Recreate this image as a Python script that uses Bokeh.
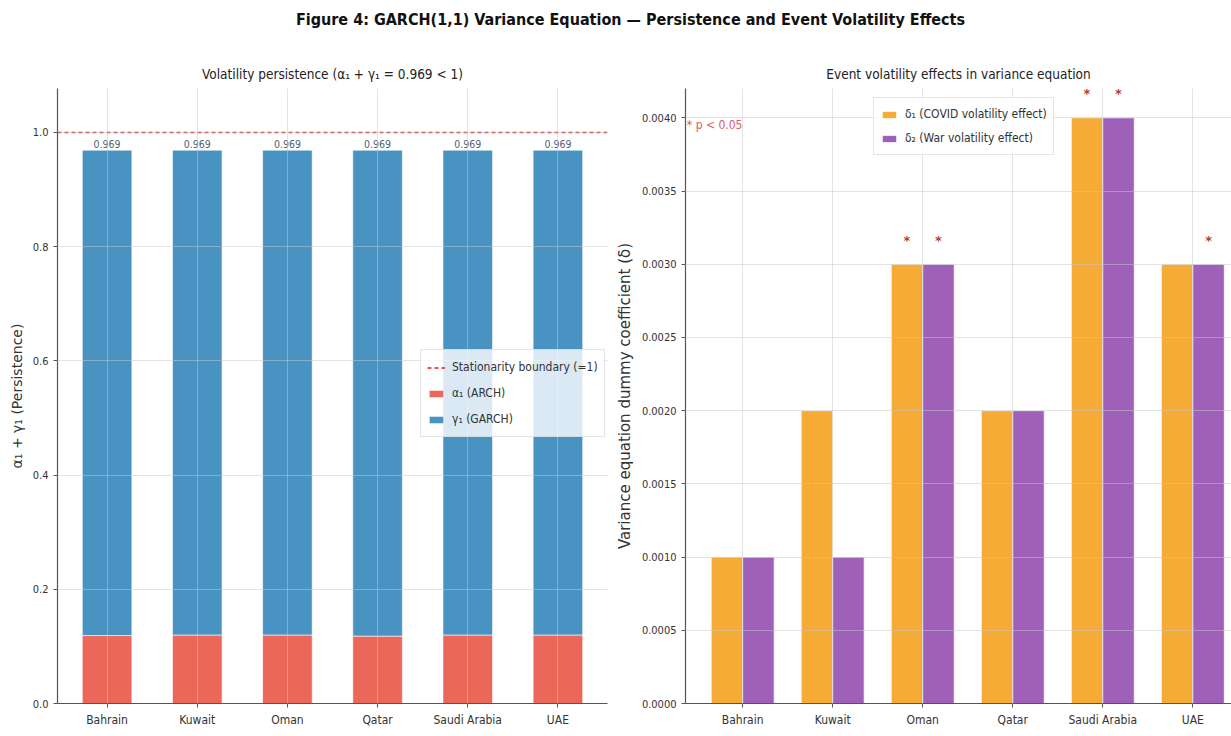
from bokeh.plotting import figure
from bokeh.layouts import column, row
from bokeh.models import (ColumnDataSource, FixedTicker, PrintfTickFormatter, Range1d,
                          Legend, LegendItem, Div, Label)
from bokeh.core.properties import value
from bokeh.embed import file_html
from bokeh.resources import INLINE

# ---- data -------------------------------------------------------------
countries = ["Bahrain", "Kuwait", "Oman", "Qatar", "Saudi Arabia", "UAE"]
alpha1 = [0.119, 0.120, 0.120, 0.118, 0.120, 0.120]      # ARCH term
gamma1 = [0.850, 0.849, 0.849, 0.851, 0.849, 0.849]      # GARCH term
boundary = 1.0

delta_covid = [0.001, 0.002, 0.003, 0.002, 0.004, 0.003]
delta_war = [0.001, 0.001, 0.003, 0.002, 0.004, 0.003]
sig_covid = [False, False, True, False, True, False]
sig_war = [False, False, True, False, True, True]

left_ticks = [0.0, 0.2, 0.4, 0.6, 0.8, 1.0]
right_ticks = [0.0, 0.0005, 0.001, 0.0015, 0.002, 0.0025, 0.003, 0.0035, 0.004]

# ---- styling ----------------------------------------------------------
NARROW = "'Liberation Sans Narrow', 'DejaVu Sans Condensed', 'DejaVu Sans', sans-serif"
WIDE = "'DejaVu Sans', sans-serif"
RED, BLUE = "#E74C3C", "#2980B9"
ORANGE, PURPLE = "#F39C12", "#8E44AD"
BAR_ALPHA = 0.85


def style_axes(p, ticks, fmt, ylabel):
    p.outline_line_color = None
    p.background_fill_color = "white"
    p.border_fill_color = "white"
    p.xaxis.ticker = FixedTicker(ticks=list(range(len(countries))))
    p.xaxis.major_label_overrides = {i: c for i, c in enumerate(countries)}
    p.yaxis.ticker = FixedTicker(ticks=ticks)
    p.yaxis.formatter = PrintfTickFormatter(format=fmt)
    p.yaxis.axis_label = ylabel
    p.yaxis.axis_label_text_font = WIDE
    p.yaxis.axis_label_text_font_size = "14px"
    p.yaxis.axis_label_text_font_style = "normal"
    p.yaxis.axis_label_text_color = "#333333"
    for ax in (p.xaxis, p.yaxis):
        ax.axis_line_color = "#555555"
        ax.axis_line_width = 1.2
        ax.major_tick_line_color = "#555555"
        ax.major_tick_out = 4
        ax.major_tick_in = 0
        ax.minor_tick_line_color = None
        ax.major_label_text_font = NARROW
        ax.major_label_text_color = "#333333"
    p.xaxis.major_label_text_font_size = "12px"
    p.yaxis.major_label_text_font_size = "11px"
    p.grid.grid_line_color = "#c8c8c8"
    p.grid.grid_line_alpha = 0.5
    p.grid.level = "overlay"
    p.title.text_font = NARROW
    p.title.text_font_size = "13.5px"
    p.title.text_font_style = "normal"
    p.title.text_color = "#222222"
    p.title.align = "center"
    p.title.standoff = 14


def style_legend(leg, row_h):
    leg.label_text_font = NARROW
    leg.label_text_font_size = "12px"
    leg.label_text_color = "#333333"
    leg.background_fill_alpha = 0.8
    leg.border_line_color = "#cccccc"
    leg.glyph_width = 18
    leg.glyph_height = 9
    leg.label_standoff = 7
    leg.spacing = 4
    leg.padding = 6
    leg.label_height = row_h


# ---- left: persistence ------------------------------------------------
idx = list(range(len(countries)))
total = [a + g for a, g in zip(alpha1, gamma1)]
src_l = ColumnDataSource(dict(
    x=idx, a=alpha1, top=total,
    lab=["%.3f" % t for t in total],
))

p1 = figure(width=612, height=696, output_backend="svg", toolbar_location=None,
            x_range=Range1d(-0.55, 5.55), y_range=Range1d(0, 1.077),
            min_border_left=57, min_border_right=5, min_border_top=48,
            min_border_bottom=33,
            title="Volatility persistence (\u03b1\u2081 + \u03b3\u2081 = 0.969 < 1)")
style_axes(p1, left_ticks, "%.1f", "\u03b1\u2081 + \u03b3\u2081 (Persistence)")

r_arch = p1.vbar(x="x", bottom=0, top="a", width=0.55, source=src_l,
                 fill_color=RED, fill_alpha=BAR_ALPHA, line_color="white", line_width=0.6)
r_garch = p1.vbar(x="x", bottom="a", top="top", width=0.55, source=src_l,
                  fill_color=BLUE, fill_alpha=BAR_ALPHA, line_color="white", line_width=0.6)
r_bound = p1.hspan(y=[boundary], line_color="#E0201E", line_width=1.6, line_dash="4 3")
p1.text(x="x", y="top", text="lab", source=src_l, text_align="center",
        text_baseline="bottom", y_offset=-2, text_font=value(NARROW),
        text_font_size="10.5px", text_color="#556070")

leg1 = Legend(items=[
    LegendItem(label="Stationarity boundary (=1)", renderers=[r_bound]),
    LegendItem(label="\u03b1\u2081 (ARCH)", renderers=[r_arch]),
    LegendItem(label="\u03b3\u2081 (GARCH)", renderers=[r_garch]),
], location=(363, 266))
style_legend(leg1, 22)
p1.add_layout(leg1)

# ---- right: event volatility dummies ------------------------------------
bw = 0.35
xc = [i - bw / 2 for i in idx]
xw = [i + bw / 2 for i in idx]
p2 = figure(width=619, height=696, output_backend="svg", toolbar_location=None,
            x_range=Range1d(-0.635, 5.43), y_range=Range1d(0, 0.0042),
            min_border_left=70, min_border_right=0, min_border_top=48,
            min_border_bottom=33,
            title="Event volatility effects in variance equation")
style_axes(p2, right_ticks, "%.4f", "Variance equation dummy coefficient (\u03b4)")
p2.yaxis.axis_label_text_font_size = "15px"

r_cov = p2.vbar(x=xc, top=delta_covid, width=bw, fill_color=ORANGE,
                fill_alpha=BAR_ALPHA, line_color="white", line_width=0.8)
r_war = p2.vbar(x=xw, top=delta_war, width=bw, fill_color=PURPLE,
                fill_alpha=BAR_ALPHA, line_color="white", line_width=0.8)

star_x = [x for x, s in zip(xc, sig_covid) if s] + [x for x, s in zip(xw, sig_war) if s]
star_y = [v for v, s in zip(delta_covid, sig_covid) if s] + [v for v, s in zip(delta_war, sig_war) if s]
p2.text(x=star_x, y=star_y, text=["*"] * len(star_x), text_align="center",
        text_baseline="middle", y_offset=-24, text_font=value(WIDE),
        text_font_size="13px", text_color="#C0392B", text_font_style="bold")

p2.add_layout(Label(x=-0.62, y=0.00395, text="* p < 0.05", text_baseline="middle",
                    text_font=NARROW, text_font_size="12px", text_color="#E05A6A"))

leg2 = Legend(items=[
    LegendItem(label="\u03b4\u2081 (COVID volatility effect)", renderers=[r_cov]),
    LegendItem(label="\u03b4\u2082 (War volatility effect)", renderers=[r_war]),
], location=(188, 548))
style_legend(leg2, 20)
p2.add_layout(leg2)

# ---- page --------------------------------------------------------------
head = Div(text="Figure 4: GARCH(1,1) Variance Equation \u2014 Persistence and Event Volatility Effects",
           width=1231, height=40, margin=0,
           styles={"font-family": NARROW, "font-weight": "bold", "font-size": "16px",
                   "color": "#111111", "text-align": "center", "padding-left": "30px",
                   "line-height": "40px", "box-sizing": "border-box", "width": "1231px",
                   "height": "40px"})

page = column(head, row(p1, p2, spacing=0), spacing=0)
open("out.html", "w").write(file_html(page, INLINE))
